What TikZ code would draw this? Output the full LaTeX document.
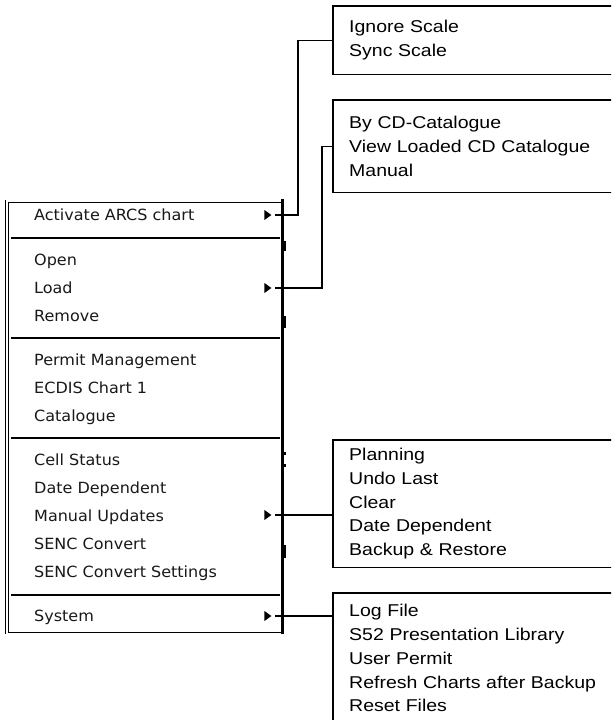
\documentclass[tikz,border=0pt]{standalone}
\usepackage{fontspec}
\newfontfamily\menufont[FakeStretch=1.04]{DejaVu Sans}
\newfontfamily\boxfont[FakeStretch=1.14]{Liberation Sans}
\usetikzlibrary{shapes.geometric,calc}
\begin{document}
\begin{tikzpicture}[x=1pt,y=-1pt,
  menuitem/.style={anchor=base west, inner sep=0pt, font=\menufont\fontsize{15.4}{17}\selectfont, text=black!90},
  subarrow/.style={shape=isosceles triangle, isosceles triangle stretches, minimum height=7pt, minimum width=10pt, inner sep=0pt, fill=black, draw=none},
  boxnode/.style={draw=none, rectangle, anchor=north west, text width=308pt, inner xsep=16pt, inner ysep=0pt, align=left, font=\boxfont\fontsize{17.1}{23.8}\selectfont},
  boxline/.style={line width=1.3pt},
  conn/.style={line width=1.3pt},
  sep/.style={line width=2pt},
  menuframe/.style={draw, line width=1pt, rectangle, anchor=north west, minimum width=275pt, minimum height=430pt, inner sep=0pt}
]
\useasboundingbox (0,0) rectangle (611,720);
\clip (0,0) rectangle (611,720);
\fill[white] (0,0) rectangle (611,720);

% menu frame
\node[menuframe] (menu) at (8,202) {};
\draw[line width=1pt] (5,200) -- (5,634);
\draw[line width=2.6pt] (282.5,199) -- (282.5,634);
\fill (281,241) rectangle (286,251);
\fill (281,316) rectangle (286,328);
\fill (281,452) rectangle (286,455);
\fill (281,464) rectangle (286,467);
\fill (281,545) rectangle (286,558);

% separators
\draw[sep] (11,238) -- (280,238);
\draw[sep] (11,338) -- (280,338);
\draw[sep] (11,438) -- (280,438);
\draw[sep] (11,595) -- (280,595);

% menu items
\node[menuitem] (act) at (34,220.5) {Activate ARCS chart};
\node[menuitem] (open) at (34,265.5) {Open};
\node[menuitem] (load) at (34,293.5) {Load};
\node[menuitem] (remove) at (34,321.5) {Remove};
\node[menuitem] (permit) at (34,365.5) {Permit Management};
\node[menuitem] (ecdis) at (34,393.5) {ECDIS Chart 1};
\node[menuitem] (catalogue) at (34,421.5) {Catalogue};
\node[menuitem] (cell) at (34,465.5) {Cell Status};
\node[menuitem] (date) at (34,493.5) {Date Dependent};
\node[menuitem] (manual) at (34,521.5) {Manual Updates};
\node[menuitem] (senc) at (34,549.5) {SENC Convert};
\node[menuitem] (sencset) at (34,577.5) {SENC Convert Settings};
\node[menuitem] (system) at (34,621.5) {System};

% submenu arrows
\node[subarrow] (arrAct) at (267,215) {};
\node[subarrow] (arrLoad) at (267,288) {};
\node[subarrow] (arrMan) at (267,515) {};
\node[subarrow] (arrSys) at (267,616) {};

% submenu boxes (right side runs off the picture)
\node[boxnode, minimum height=68pt] (b1) at (333,6) {Ignore Scale\\Sync Scale};
\node[boxnode, minimum height=92pt] (b2) at (333,100) {By CD-Catalogue\\View Loaded CD Catalogue\\Manual};
\node[boxnode, minimum height=127pt] (b3) at (333,440) {Planning\\Undo Last\\Clear\\Date Dependent\\Backup \& Restore};
\node[boxnode, minimum height=130pt] (b4) at (333,593) {Log File\\S52 Presentation Library\\User Permit\\Refresh Charts after Backup\\Reset Files};
\foreach \b in {b1,b2,b3,b4}
  \draw[boxline] (\b.north east) -- (\b.north west) -- (\b.south west) -- (\b.south east);

% connectors
\coordinate (cAct) at ($(arrAct.apex)+(3pt,0)$);
\coordinate (cLoad) at ($(arrLoad.apex)+(3pt,0)$);
\coordinate (cMan) at ($(arrMan.apex)+(3pt,0)$);
\coordinate (cSys) at ($(arrSys.apex)+(3pt,0)$);
\draw[conn] (cAct) -| ($(b1.west)+(-35pt,0)$) -- (b1.west);
\draw[conn] (cLoad) -| ($(b2.west)+(-11pt,0)$) -- (b2.west);
\draw[conn] (cMan) -- (cMan -| b3.west);
\draw[conn] (cSys) -- (cSys -| b4.west);
\end{tikzpicture}
\end{document}
